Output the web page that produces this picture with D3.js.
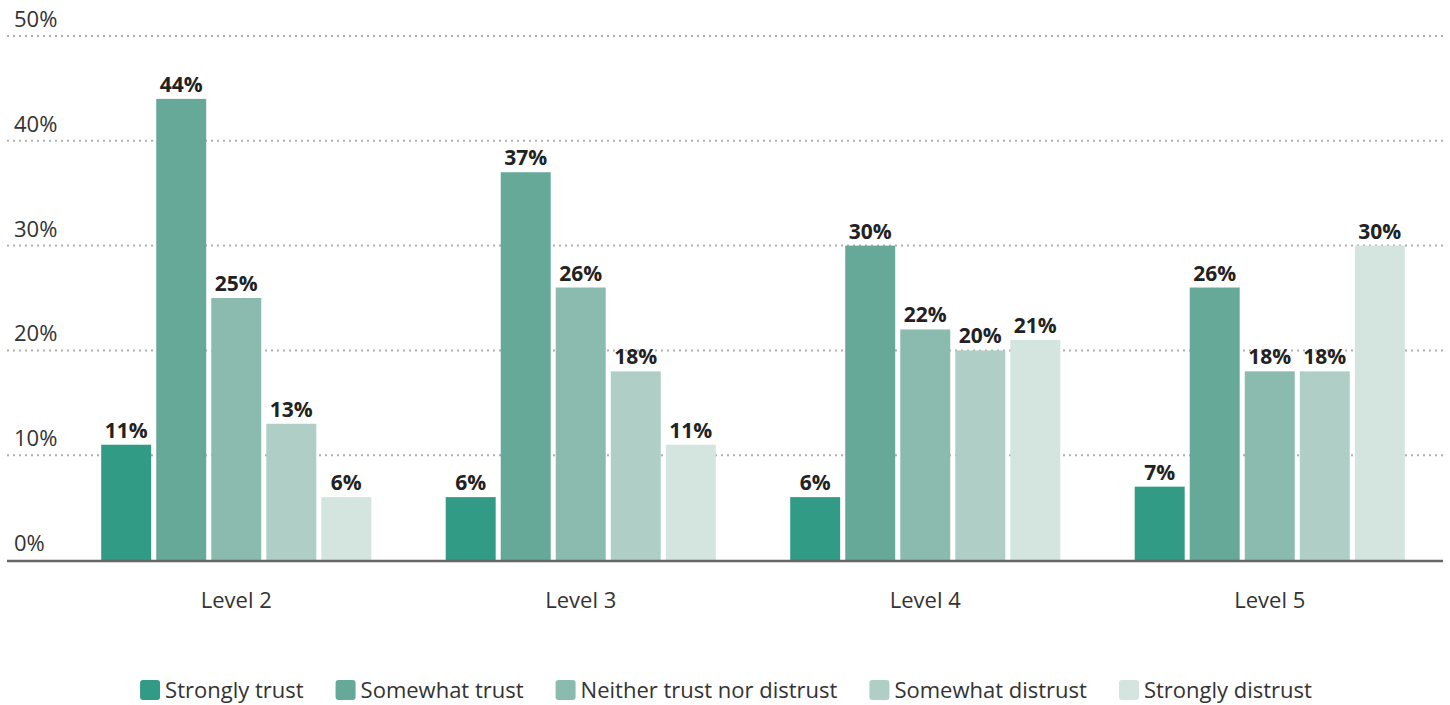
<!DOCTYPE html>
<html>
<head>
<meta charset="utf-8">
<script src="https://d3js.org/d3.v7.min.js"></script>
<style>
  body { margin: 0; background: #fff; }
  svg text { font-family: "Open Sans", Lato, sans-serif; }
</style>
</head>
<body>
<svg id="chart" width="1450" height="705"></svg>
<script>
// chart data
var levels = ["Level 2", "Level 3", "Level 4", "Level 5"];
var series = ["Strongly trust", "Somewhat trust", "Neither trust nor distrust", "Somewhat distrust", "Strongly distrust"];
var stronglyTrust = [11, 6, 6, 7];
var somewhatTrust = [44, 37, 30, 26];
var neither = [25, 26, 22, 18];
var somewhatDistrust = [13, 18, 20, 18];
var stronglyDistrust = [6, 11, 21, 30];
var yTicks = [0, 10, 20, 30, 40, 50];

var colors = ["#329b85", "#67a999", "#8bbaae", "#afcfc6", "#d4e4df"];
var values = [stronglyTrust, somewhatTrust, neither, somewhatDistrust, stronglyDistrust];

var svg = d3.select("#chart");
var left = 7, right = 1443;

var y = d3.scaleLinear().domain([0, 50]).range([560, 36]);
var x0 = d3.scaleBand().domain(levels).range([64, 1442]).paddingInner(0.216).paddingOuter(0.108);
var x1 = d3.scaleBand().domain(series).range([0, x0.bandwidth()]).paddingInner(0.092).paddingOuter(0);
var color = d3.scaleOrdinal().domain(series).range(colors);

// gridlines
svg.append("g").selectAll("line")
  .data(yTicks.filter(function(d){ return d > 0; }))
  .enter().append("line")
    .attr("x1", left).attr("x2", right)
    .attr("y1", function(d){ return y(d); })
    .attr("y2", function(d){ return y(d); })
    .attr("stroke", "#b0b0b0")
    .attr("stroke-width", 2)
    .attr("stroke-dasharray", "2,4");

// y labels
svg.append("g").selectAll("text")
  .data(yTicks)
  .enter().append("text")
    .attr("x", 14)
    .attr("y", function(d){ return y(d) - 9; })
    .attr("font-size", 22)
    .attr("fill", "#333")
    .text(function(d){ return d + "%"; });

// bars
var rows = levels.map(function(l, i) {
  return series.map(function(s, j) { return { level: l, series: s, value: values[j][i] }; });
});

var groups = svg.append("g").selectAll("g")
  .data(rows)
  .enter().append("g")
    .attr("transform", function(d){ return "translate(" + x0(d[0].level) + ",0)"; });

groups.selectAll("rect")
  .data(function(d){ return d; })
  .enter().append("rect")
    .attr("x", function(d){ return x1(d.series); })
    .attr("width", x1.bandwidth())
    .attr("y", function(d){ return y(d.value); })
    .attr("height", function(d){ return y(0) - y(d.value); })
    .attr("fill", function(d){ return color(d.series); });

groups.selectAll("text")
  .data(function(d){ return d; })
  .enter().append("text")
    .attr("x", function(d){ return x1(d.series) + x1.bandwidth() / 2; })
    .attr("y", function(d){ return y(d.value) - 7; })
    .attr("text-anchor", "middle")
    .attr("font-size", 21)
    .attr("font-weight", "bold")
    .attr("fill", "#222")
    .text(function(d){ return d.value + "%"; });

// baseline
svg.append("line")
  .attr("x1", left).attr("x2", right)
  .attr("y1", y(0) + 1).attr("y2", y(0) + 1)
  .attr("stroke", "#666")
  .attr("stroke-width", 2.5);

// x axis labels
svg.append("g").selectAll("text")
  .data(levels)
  .enter().append("text")
    .attr("x", function(d){ return x0(d) + x0.bandwidth() / 2; })
    .attr("y", 608)
    .attr("text-anchor", "middle")
    .attr("font-size", 22)
    .attr("fill", "#333")
    .text(function(d){ return d; });

// legend
var legend = svg.append("g");
var items = legend.selectAll("g")
  .data(series)
  .enter().append("g");

items.append("rect")
  .attr("width", 20).attr("height", 20)
  .attr("y", 680)
  .attr("rx", 3)
  .attr("fill", function(d){ return color(d); });

items.append("text")
  .attr("x", 25)
  .attr("y", 698)
  .attr("font-size", 22)
  .attr("fill", "#333")
  .text(function(d){ return d; });

var pos = 0, gap = 32;
items.each(function() {
  var w = d3.select(this).select("text").node().getComputedTextLength();
  d3.select(this).attr("transform", "translate(" + pos + ",0)");
  pos += 25 + w + gap;
});
var total = pos - gap;
legend.attr("transform", "translate(" + (726 - total / 2) + ",0)");
</script>
</body>
</html>
